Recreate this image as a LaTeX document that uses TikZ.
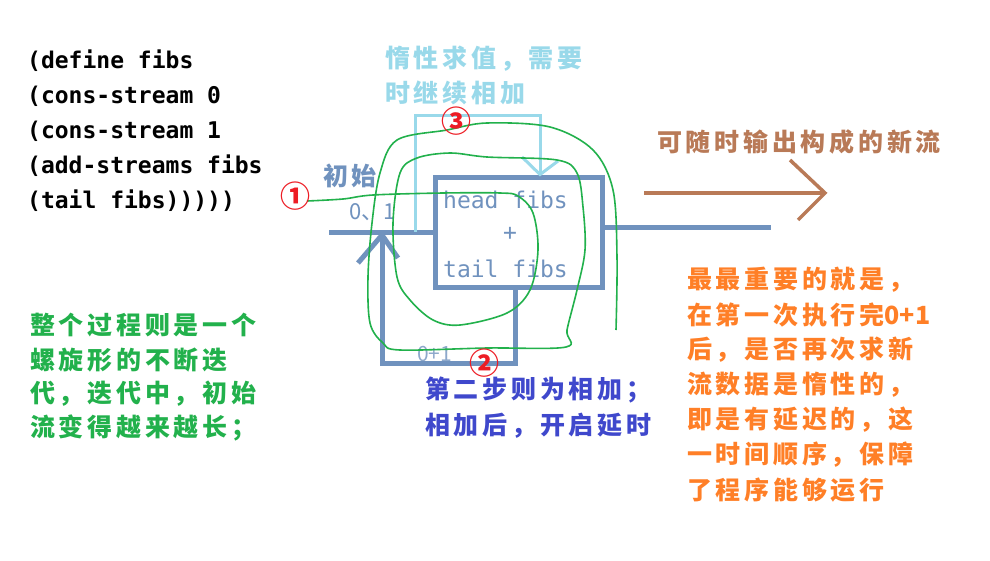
\documentclass[tikz,border=0pt]{standalone}
\usepackage{fontspec}
\usepackage{tikz}
\usepackage{xcolor}
\usetikzlibrary{positioning,calc}
\newfontfamily\cjk[LetterSpace=15]{Noto Sans CJK SC}
\newfontfamily\cjkplain{Noto Sans CJK SC}
\newfontfamily\codefont{DejaVu Sans Mono}
\definecolor{steel}{HTML}{7092BE}
\definecolor{sky}{HTML}{99D9EA}
\definecolor{grass}{HTML}{22B14C}
\definecolor{brick}{HTML}{B97A57}
\definecolor{tangerine}{HTML}{FF7F27}
\definecolor{indigo}{HTML}{3F48CC}
\definecolor{mark}{HTML}{ED1C24}

\begin{document}
\begin{tikzpicture}[x=1pt,y=-1pt,
  codeline/.style={anchor=west,inner sep=0pt,font=\codefont\bfseries\fontsize{23}{28}\selectfont},
  note/.style={anchor=west,inner sep=0pt,font=\cjk\bfseries\fontsize{25}{30}\selectfont},
  stepmark/.style={inner sep=0pt,text=mark,font=\cjkplain\bfseries\fontsize{30}{32}\selectfont},
  pipe/.style={draw=steel,line width=5pt}]
  \useasboundingbox[fill=white] (0,0) rectangle (990,560);

  % source code
  \foreach \l [count=\i] in {{(define fibs},{(cons-stream 0},{(cons-stream 1},{(add-streams fibs},{(tail fibs)))))}}
    \node[codeline] (code\i) at (27,26+35*\i) {\l};

  % the adder
  \node[pipe,minimum width=167,minimum height=110] (adder) at (518.5,232) {};
  \node[anchor=west,inner sep=0pt,text=steel,font=\codefont\fontsize{23}{28}\selectfont] (head) at (443,200) {head fibs};
  \node[inner sep=0pt,text=steel,font=\codefont\fontsize{23}{28}\selectfont] (plus) at (510,234) {+};
  \node[anchor=west,inner sep=0pt,text=steel,font=\codefont\fontsize{23}{28}\selectfont] (tail) at (443,269) {tail fibs};

  \node[note,text=steel] (init) at (323,176) {初始};
  \node[anchor=west,inner sep=0pt,text=steel,font=\cjkplain\fontsize{22}{24}\selectfont] (seed) at (349,212) {0、1};
  \node[anchor=west,inner sep=0pt,text=steel!80,font=\cjkplain\fontsize{21}{24}\selectfont] (sum) at (417,354) {0+1};

  % stream pipes
  \coordinate (srcin) at (329,232);
  \coordinate (outend) at (771,227);
  \coordinate (loopR) at (515,363);
  \coordinate (loopL) at (382,363);
  \coordinate (looptip) at (382,235);
  \draw[pipe] (srcin) -- (adder.west);
  \draw[pipe] (adder.east |- outend) -- (outend);
  \draw[pipe] (adder.south -| loopR) -- (loopR) -- (loopL) -- (looptip);
  \draw[pipe] (358,263) -- (looptip) -- (398,258);

  % lazy continuation
  \coordinate (lazyL) at (415,115);
  \coordinate (lazyR) at (540,115);
  \draw[sky,line width=3pt] (415,232) -- (lazyL) -- (lazyR) -- (adder.north -| lazyR);
  \draw[sky,line width=3pt] (522,157) -- (adder.north -| lazyR) -- (558,161);

  % new stream out
  \coordinate (newA) at (644,193);
  \coordinate (newB) at (825,193);
  \draw[brick,line width=3.5pt] (newA) -- (newB);
  \draw[brick,line width=3.5pt] (790,160) -- (newB) -- (798,220);
  \node[note,text=brick] (newstream) at (657,142) {可随时输出构成的新流};

  % spiral
  \draw[grass,line width=1.6pt] plot[smooth,tension=0.55] coordinates {
    (307,201) (343,199) (373,195) (443,193) (500,193) (518,196) (533,213)
    (538,250) (530,290) (507,313) (460,325) (433,320) (410,300) (397,277)
    (393,223) (400,173) (417,158) (450,153) (487,157) (557,160) (577,173)
    (583,207) (585,250) (577,290) (567,330) (566,347) (487,348) (400,350)
    (383,343) (370,323) (368,277) (372,223) (380,173) (397,140) (447,130)
    (487,123) (550,127) (593,150) (613,190) (617,257) (616,330)};

  \node[stepmark] (one) at (295,196) {①};
  \node[stepmark] (two) at (484,363) {②};
  \node[stepmark] (three) at (456,121) {③};

  % notes
  \node[note,text=sky] (lazy1) at (385,59) {惰性求值，需要};
  \node[note,text=sky] (lazy2) at (385,93) {时继续相加};

  \node[note,text=indigo] (add1) at (425,390) {第二步则为相加；};
  \node[note,text=indigo] (add2) at (425,426) {相加后，开启延时};

  \foreach \l [count=\i] in {整个过程则是一个,螺旋形的不断迭,代，迭代中，初始,流变得越来越长；}
    \node[note,text=grass] (spiral\i) at (30,291+34.3*\i) {\l};

  \foreach \l [count=\i] in {最最重要的就是，,{在第一次执行完\cjkplain\bfseries 0+1},后，是否再次求新,流数据是惰性的，,即是有延迟的，这,一时间顺序，保障,了程序能够运行}
    \node[note,text=tangerine] (key\i) at (687,245+35*\i) {\l};
\end{tikzpicture}
\end{document}
